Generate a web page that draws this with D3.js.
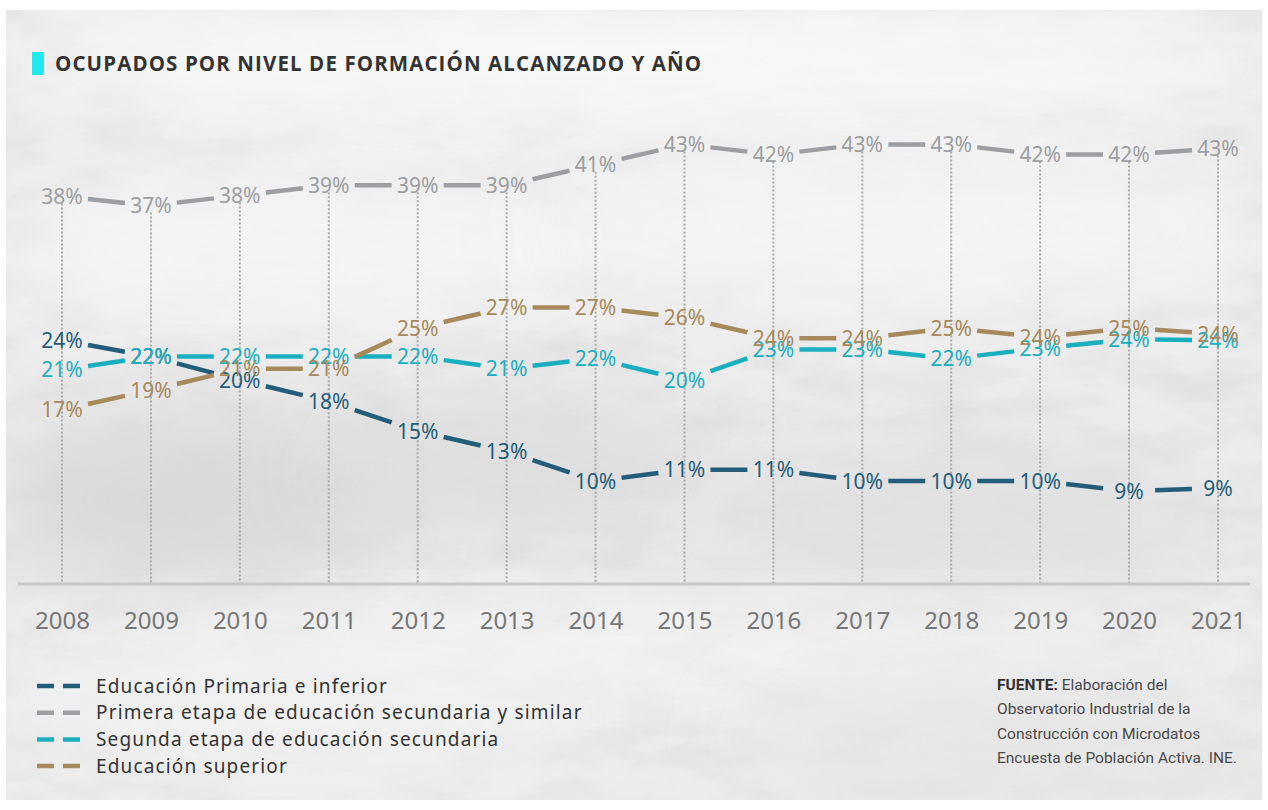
<!DOCTYPE html>
<html><head><meta charset="utf-8">
<script src="https://cdn.jsdelivr.net/npm/d3@7"></script>
<style>
html,body{margin:0;padding:0;background:#fff;}
svg{display:block;}
</style></head>
<body>
<svg id="chart" width="1268" height="810"></svg>
<script>
const years = ["2008","2009","2010","2011","2012","2013","2014","2015","2016","2017","2018","2019","2020","2021"];
const seriesNames = ["Educación Primaria e inferior","Primera etapa de educación secundaria y similar","Segunda etapa de educación secundaria","Educación superior"];
const primaria = [23.8,22.2,19.9,17.8,14.9,12.9,10.0,11.1,11.1,10.0,10.0,10.0,9.0,9.3];
const primera  = [37.9,37.0,38.0,39.0,39.0,39.0,41.0,43.0,42.0,43.0,43.0,42.0,42.0,42.6];
const segunda  = [20.9,22.2,22.2,22.2,22.2,21.0,22.0,19.9,22.9,22.9,22.0,23.0,23.9,23.8];
const superior = [17.0,18.9,21.0,21.0,25.0,27.0,27.0,26.0,24.0,24.0,25.0,24.1,25.0,24.4];
const colors = ["#245d79","#9d9ea1","#1aafbf","#a68a5b"];
const title = "OCUPADOS POR NIVEL DE FORMACIÓN ALCANZADO Y AÑO";
const sourceLines = ["Elaboración del","Observatorio Industrial de la","Construcción con Microdatos","Encuesta de Población Activa. INE."];

const allSeries = [primaria, primera, segunda, superior];
const svg = d3.select("#chart");

// background texture
const defs = svg.append("defs");
const blur = defs.append("filter").attr("id","blur").attr("x","-50%").attr("y","-50%").attr("width","200%").attr("height","200%");
blur.append("feGaussianBlur").attr("stdDeviation",40);
const noise = defs.append("filter").attr("id","noise");
noise.append("feTurbulence").attr("type","fractalNoise").attr("baseFrequency","0.012 0.03").attr("numOctaves",4).attr("seed",7);
noise.append("feColorMatrix").attr("type","matrix").attr("values","0 0 0 0 0.55  0 0 0 0 0.55  0 0 0 0 0.56  0 0 0 -1.4 0.9");
const clip = defs.append("clipPath").attr("id","bgclip");
clip.append("rect").attr("x",6).attr("y",10).attr("width",1256).attr("height",790);

const bg = svg.append("g").attr("clip-path","url(#bgclip)");
bg.append("rect").attr("x",6).attr("y",10).attr("width",1256).attr("height",790).attr("fill","#ececec");
bg.append("rect").attr("x",6).attr("y",10).attr("width",1256).attr("height",790).attr("filter","url(#noise)").attr("opacity",0.4);
const blobs = [
  {cx:640,cy:60,rx:640,ry:70,c:"#f9f9f9"},
  {cx:300,cy:250,rx:300,ry:80,c:"#f6f6f6"},
  {cx:900,cy:230,rx:360,ry:90,c:"#f5f5f5"},
  {cx:200,cy:500,rx:200,ry:90,c:"#d8d8d8"},
  {cx:520,cy:470,rx:200,ry:70,c:"#dddddd"},
  {cx:950,cy:520,rx:260,ry:80,c:"#e0e0e0"},
  {cx:640,cy:650,rx:600,ry:40,c:"#f4f4f4"},
  {cx:300,cy:720,rx:300,ry:60,c:"#f2f2f2"},
  {cx:1000,cy:740,rx:260,ry:60,c:"#e6e6e6"}
];
bg.selectAll("ellipse.blob").data(blobs).join("ellipse").attr("class","blob")
  .attr("cx",d=>d.cx).attr("cy",d=>d.cy).attr("rx",d=>d.rx).attr("ry",d=>d.ry)
  .attr("fill",d=>d.c).attr("filter","url(#blur)").attr("opacity",0.9);

// title
svg.append("rect").attr("x",32).attr("y",52).attr("width",12).attr("height",23).attr("fill","#22e9f0");
svg.append("text").attr("x",55).attr("y",71).text(title)
  .attr("font-family","'Open Sans', sans-serif").attr("font-weight",700).attr("font-size",20.5)
  .attr("letter-spacing",1.1).attr("fill","#333");

// scales
const x = d3.scalePoint().domain(years).range([62,1218]);
const y = d3.scaleLinear().domain([0,50]).range([583,73]);

// dotted verticals
years.forEach((yr,i)=>{
  const top = d3.max(allSeries, s=>s[i]);
  svg.append("line").attr("x1",x(yr)).attr("x2",x(yr)).attr("y1",y(top)+7).attr("y2",y(0))
    .attr("stroke","#a9a9a9").attr("stroke-width",2).attr("stroke-dasharray","2,2");
});

// baseline axis
const xAxis = d3.axisBottom(x).tickSize(0).tickPadding(24);
const ax = svg.append("g").attr("transform",`translate(0,${y(0)})`).call(xAxis);
ax.select(".domain").remove();
svg.append("line").attr("x1",18).attr("x2",1250).attr("y1",y(0)+1).attr("y2",y(0)+1)
  .attr("stroke","#c8c8c8").attr("stroke-width",3);
ax.selectAll("text").attr("font-family","'Noto Sans', sans-serif").attr("font-size",24)
  .attr("fill","#777").attr("dy","0.32em").attr("y",38);

// lines as trimmed segments
const gap = 26;
allSeries.forEach((s,k)=>{
  for(let i=0;i<s.length-1;i++){
    const x1=x(years[i]), y1=y(s[i]), x2=x(years[i+1]), y2=y(s[i+1]);
    const dx=x2-x1, t=gap/dx;
    svg.append("line")
      .attr("x1",x1+dx*t).attr("y1",y1+(y2-y1)*t)
      .attr("x2",x2-dx*t).attr("y2",y2-(y2-y1)*t)
      .attr("stroke",colors[k]).attr("stroke-width",4.5);
  }
});

// labels
allSeries.forEach((s,k)=>{
  svg.append("g").selectAll("text").data(s).join("text")
    .attr("x",(d,i)=>x(years[i])).attr("y",d=>y(d))
    .attr("dy","0.36em").attr("text-anchor","middle")
    .attr("font-family","'Noto Sans', sans-serif").attr("font-size",21)
    .attr("fill",colors[k]).text(d=>Math.round(d)+"%");
});

// legend
const lg = svg.append("g");
seriesNames.forEach((n,k)=>{
  const yy = 686 + k*26.7;
  lg.append("line").attr("x1",37).attr("x2",82).attr("y1",yy).attr("y2",yy)
    .attr("stroke",colors[k]).attr("stroke-width",4.5).attr("stroke-dasharray","17,9");
  lg.append("text").attr("x",96).attr("y",yy).attr("dy","0.35em").text(n)
    .attr("font-family","'Noto Sans', sans-serif").attr("font-size",19)
    .attr("letter-spacing",1.15).attr("fill","#333");
});

// source
const src = svg.append("text").attr("font-family","Roboto, sans-serif").attr("font-size",15.5).attr("fill","#4a4a4a");
sourceLines.forEach((l,i)=>{
  const t = src.append("tspan").attr("x",997).attr("y",690+i*24.3);
  if(i===0){ t.append("tspan").attr("font-weight",700).attr("fill","#333").text("FUENTE: "); t.append("tspan").text(l); }
  else t.text(l);
});
</script>
</body></html>
